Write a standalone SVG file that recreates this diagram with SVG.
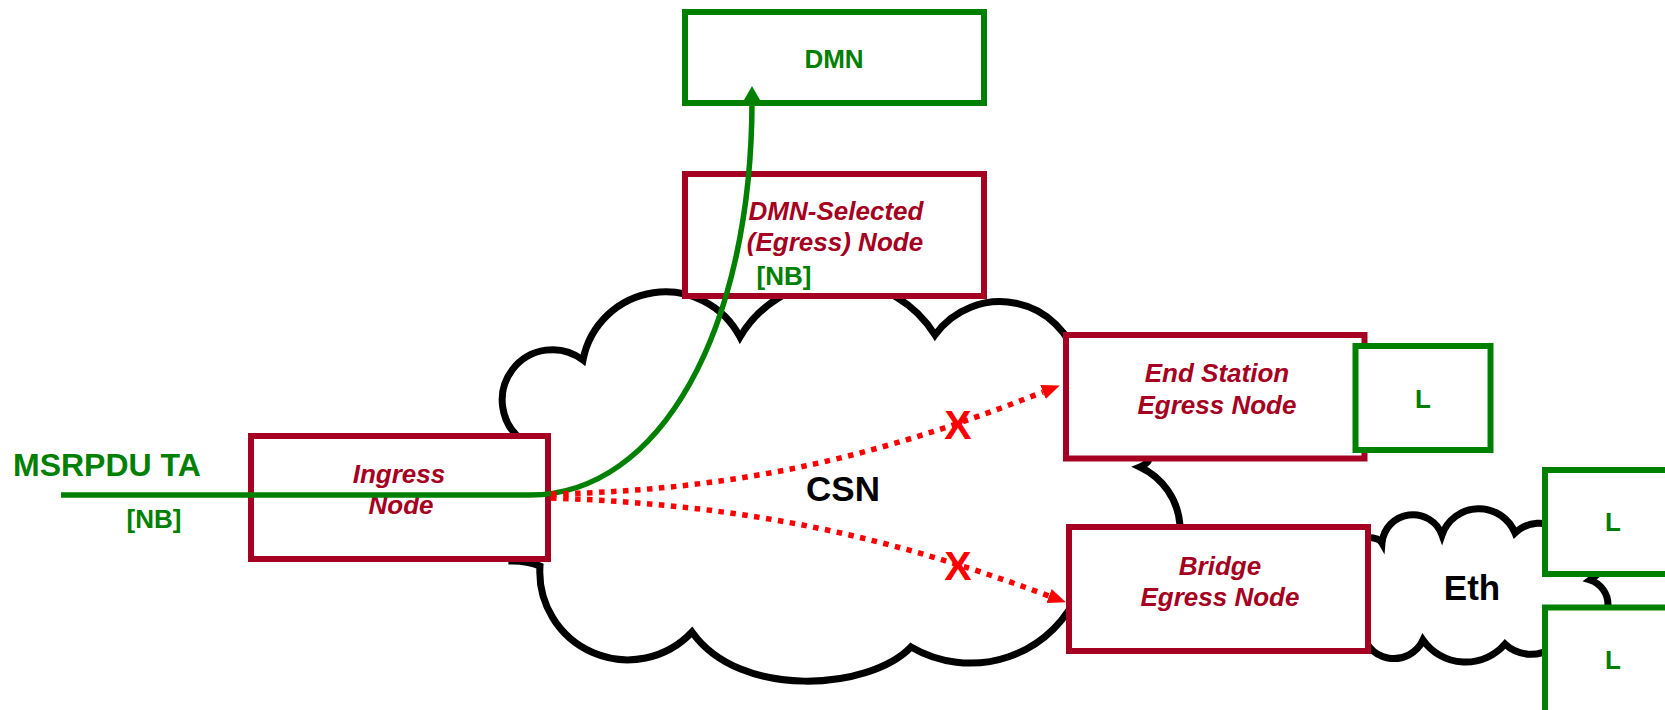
<svg xmlns="http://www.w3.org/2000/svg" width="1665" height="710" viewBox="0 0 1665 710">
<style>
 text{font-family:"Liberation Sans",Arial,sans-serif;font-weight:bold}
 .cloud{fill:#fff;stroke:#000;stroke-width:7}
 .nd{fill:#fff;stroke:#A50021;stroke-width:6}
 .gb{fill:#fff;stroke:#008000;stroke-width:6}
 .rt{fill:#A50021;font-style:italic;font-size:26px;text-anchor:middle}
 .gt{fill:#008000;font-size:26px;text-anchor:middle}
 .bt{fill:#000;font-size:35px;text-anchor:middle}
 .red{fill:none;stroke:#f00;stroke-width:5.5;stroke-dasharray:5.5 6.5}
 .grn{fill:none;stroke:#008000;stroke-width:5.5}
 .xm{fill:#f00;font-size:41px;text-anchor:middle}
</style>
<defs>
 <marker id="ga" markerUnits="userSpaceOnUse" markerWidth="14" markerHeight="16" refX="0" refY="8" orient="auto"><path d="M0,0 L14,8 L0,16 z" fill="#008000"/></marker>
 <marker id="ra" markerUnits="userSpaceOnUse" markerWidth="18" markerHeight="15" refX="0" refY="7.5" orient="auto"><path d="M0,0 L18,7.5 L0,15 z" fill="#f00"/></marker>
</defs>
<rect width="1665" height="710" fill="#fff"/>
<g id="csn">
 <path class="cloud" d="M 515 500 L 522 440 A 50 50 0 1 1 583 360 A 84 84 0 0 1 740 337 A 114 114 0 0 1 935 335 A 80 80 0 0 1 1078 364 L 1130 440 L 1150 455 Q 1150 463 1140 467 A 70 70 0 0 1 1180 525 L 1180 560 L 1080 589 A 118 118 0 0 1 911 647 C 870 690 740 700 692 632 A 88 88 0 0 1 540 566 Q 528 561 512 561 Z"/>
 <text class="bt" x="843" y="501">CSN</text>
</g>
<g id="eth">
 <path class="cloud" d="M 1360 538 Q 1378 536 1382 543 A 31 31 0 0 1 1442 535 A 39 39 0 0 1 1515 533 A 35 35 0 0 1 1560 530 L 1598 574 L 1590 580 A 26 26 0 0 1 1608 605 L 1600 640 L 1552 648 A 38 38 0 0 1 1505 644 A 52 52 0 0 1 1423 640 A 32 32 0 0 1 1362 628 Z"/>
 <text class="bt" x="1472" y="600">Eth</text>
</g>
<g id="dmn">
 <rect class="gb" x="685" y="12" width="299" height="91"/>
 <text class="gt" x="834" y="68">DMN</text>
</g>
<g id="dmn-selected">
 <rect class="nd" x="685" y="174" width="299" height="122"/>
 <text class="rt" x="836" y="220">DMN-Selected</text>
 <text class="rt" x="835" y="251">(Egress) Node</text>
 <text class="gt" x="784" y="285">[NB]</text>
</g>
<g id="ingress">
 <rect class="nd" x="251" y="436" width="297" height="123"/>
 <text class="rt" x="399" y="483">Ingress</text>
 <text class="rt" x="401" y="514">Node</text>
</g>
<g id="end-station">
 <rect class="nd" x="1066" y="335" width="298.5" height="123.5"/>
 <text class="rt" x="1217" y="382">End Station</text>
 <text class="rt" x="1217" y="414">Egress Node</text>
</g>
<g id="bridge">
 <rect class="nd" x="1069" y="527" width="299" height="124"/>
 <text class="rt" x="1220" y="575">Bridge</text>
 <text class="rt" x="1220" y="606">Egress Node</text>
</g>
<g id="l1">
 <rect class="gb" x="1355.5" y="346" width="135" height="104"/>
 <text class="gt" x="1423" y="408">L</text>
</g>
<g id="l2">
 <rect class="gb" x="1545" y="470" width="200" height="104"/>
 <text class="gt" x="1613" y="531">L</text>
</g>
<g id="l3">
 <rect class="gb" x="1545" y="607.5" width="200" height="150"/>
 <text class="gt" x="1613" y="669">L</text>
</g>
<g id="labels">
 <text x="13" y="476" fill="#008000" font-size="32">MSRPDU TA</text>
 <text class="gt" x="154" y="528" font-size="25">[NB]</text>
</g>
<g id="connectors">
 <path class="grn" d="M 61 495 L 530 495 C 660 495 752 330 752 100" marker-end="url(#ga)"/>
 <path class="red" d="M 551 494 C 750 490 890 452 1043 392" marker-end="url(#ra)"/>
 <path class="red" d="M 551 498 C 750 505 890 537 1049 596" marker-end="url(#ra)"/>
 <text class="xm" x="958" y="439">X</text>
 <text class="xm" x="958" y="580">X</text>
</g>
</svg>
